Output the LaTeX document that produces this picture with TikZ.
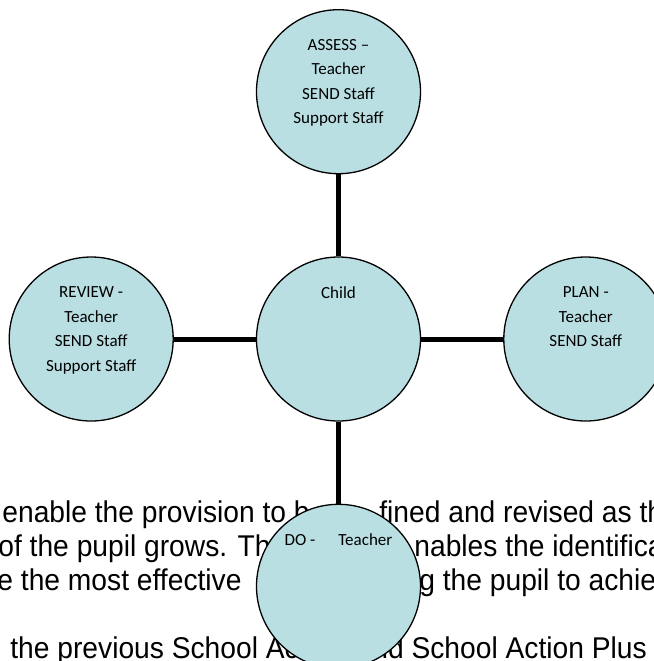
\documentclass[tikz,border=0pt]{standalone}
\usepackage{fontspec}
\setmainfont{Liberation Sans}
\newfontfamily\bodyfont[FakeStretch=0.94]{Liberation Sans}
\newfontfamily\calibri{Carlito}
\usetikzlibrary{positioning}

\definecolor{bubblefill}{HTML}{BADFE3}

\tikzset{
  bubble/.style={circle, draw=black, line width=0.65pt, fill=bubblefill, minimum size=82pt, inner sep=0pt},
  bubbletext/.style={anchor=north, align=center, inner sep=0pt, font=\calibri\fontsize{8.5}{12.25}\selectfont},
  link/.style={line width=2.5pt},
  bodyline/.style={anchor=base west, inner sep=0pt, font=\bodyfont\fontsize{15}{17}\selectfont}
}

\begin{document}
\begin{tikzpicture}[x=0.5pt,y=-0.5pt,node distance=41pt]
\useasboundingbox (0,0) rectangle (654,661);
\clip (0,0) rectangle (654,661);

% page text behind the cycle
\node[bodyline] (l1a) at (2,522) {enable the provision to b};
\node[bodyline] (l1b) at (379,522) {fined and revised as the};
\node[bodyline] (l2a) at (-2,556) {of the pupil grows. Th};
\node[bodyline] (l2b) at (414,556) {nables the identification};
\node[bodyline] (l3a) at (-28,590) {are the most effective};
\node[bodyline] (l3b) at (419,590) {g the pupil to achieve};
\node[bodyline] (l4a) at (10,658) {the previous School Ac};
\node[bodyline] (l4b) at (372,658) {nd School Action Plus};

% cycle
\node[bubble] (child) at (338.5,339) {};
\node[bubble, above=of child] (assess) {};
\node[bubble, left=of child] (review) {};
\node[bubble, right=of child] (plan) {};
\node[bubble, below=of child] (do) {};

\node[bubbletext] (childtxt) at ([yshift=-15pt]child.north) {Child};
\node[bubbletext] (assesstxt) at ([yshift=-15pt]assess.north) {ASSESS \textendash\\Teacher\\SEND Staff\\Support Staff};
\node[bubbletext] (reviewtxt) at ([yshift=-15pt]review.north) {REVIEW -\\Teacher\\SEND Staff\\Support Staff};
\node[bubbletext] (plantxt) at ([yshift=-15pt]plan.north) {PLAN -\\Teacher\\SEND Staff};
\node[bubbletext] (dotxt) at ([yshift=-15pt]do.north) {DO -\hspace{11.5pt}Teacher};

\foreach \n in {assess, review, plan, do}{
\draw[link] (child) -- (\n);
}
\end{tikzpicture}
\end{document}
